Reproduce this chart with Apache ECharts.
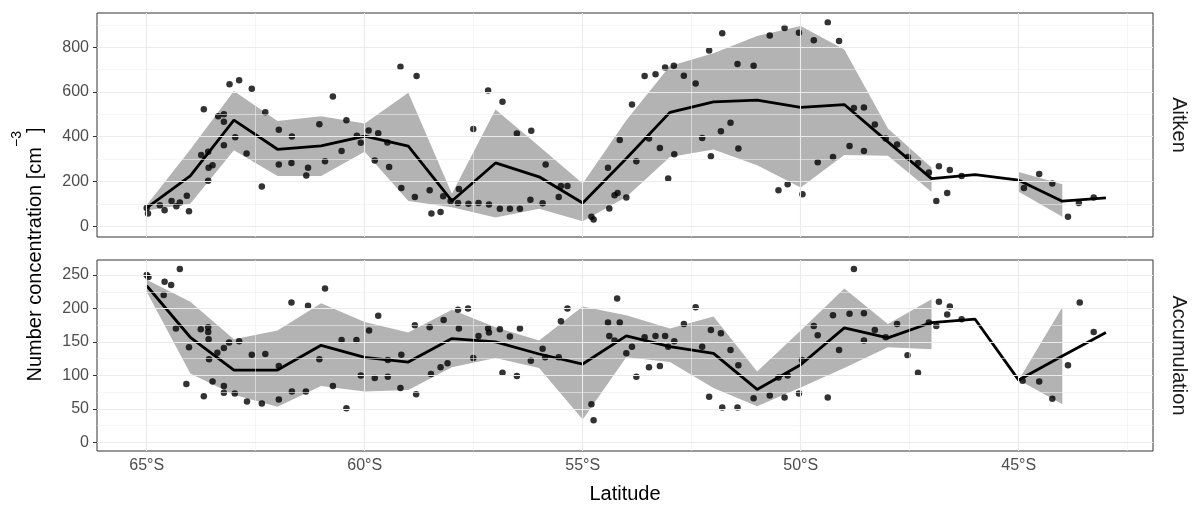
<!DOCTYPE html>
<html><head><meta charset="utf-8">
<script src="https://cdn.jsdelivr.net/npm/echarts@6.0.0/dist/echarts.min.js"></script>
<style>html,body{margin:0;padding:0;background:#fff}#c{width:1198px;height:508px}</style>
</head><body><div id="c"></div>
<script>
// ---------- data ----------
const LATS = [-65,-64,-63,-62,-61,-60,-59,-58,-57,-56,-55,-54,-53,-52,-51,-50,-49,-48,-47,-46,-45,-44,-43];
const AITKEN_MEAN  = [82,225,474,344,359,403,358,113,283,221,104,303,509,556,564,531,544,377,213,231,206,112,127];
const AITKEN_UPPER = [95,343,604,470,492,459,597,145,522,358,191,474,716,773,850,895,790,437,263,null,243,188,null];
const AITKEN_LOWER = [70,101,340,225,225,333,113,85,39,78,22,131,310,343,273,173,318,315,154,null,154,42,null];
const ACC_MEAN  = [234,157,108,108,145,127,120,155,150,132,117,159,143,133,79,116,171,156,179,184,93,129,164];
const ACC_UPPER = [243,210,154,167,208,180,164,198,172,152,203,190,170,188,106,167,230,177,214,null,93,202,null];
const ACC_LOWER = [225,103,71,53,84,76,78,112,126,111,34,127,120,81,54,82,111,142,139,null,93,57,null];

const AITKEN_PTS_LAT = [-65.0,-64.97,-64.70,-64.59,-64.43,-64.32,-64.24,-64.08,-64.03,-63.69,-63.75,-63.59,-63.58,-63.49,-63.59,-63.36,-63.23,-63.23,-63.23,-63.10,-62.97,-62.88,-62.71,-62.59,-62.36,-62.28,-61.97,-61.97,-61.68,-61.67,-61.34,-61.30,-61.04,-60.91,-60.73,-60.53,-60.42,-60.18,-60.09,-59.91,-59.77,-59.69,-59.48,-59.44,
 -59.18,-58.81,-59.16,-58.85,-58.51,-58.47,-58.26,-58.20,-58.03,-57.84,-57.86,-57.62,-57.51,-57.39,-57.17,-57.15,-56.90,-56.84,-56.67,-56.51,-56.44,-56.20,-56.18,-55.92,-55.85,-55.55,-55.50,-55.35,-54.80,-54.75,-54.39,-54.42,-54.27,-54.20,-54.15,-54.00,-53.87,-53.77,-53.58,-53.48,-53.33,-53.23,-53.11,-53.04,-52.91,-52.90,
 -52.68,-52.41,-52.26,-52.10,-52.06,-51.83,-51.80,-51.61,-51.45,-51.43,-51.08,-50.71,-50.51,-50.37,-50.30,-50.04,-49.96,-49.70,-49.61,-49.38,-49.26,-49.12,-48.88,-48.78,-48.55,-48.55,-48.30,-48.05,-47.79,-47.54,-47.31,-47.06,-46.89,-46.83,-46.64,-46.58,-46.31,-44.88,-44.53,-44.23,-43.87,-43.62,-43.28];
const AITKEN_PTS_VAL = [82,57,94,72,113,89,106,136,67,523,318,333,261,273,203,492,500,467,362,635,398,653,325,614,178,509,431,276,283,401,227,262,456,291,580,336,474,404,373,428,294,416,374,265,
 713,671,171,131,161,57,64,134,113,166,104,101,435,104,607,97,78,556,78,415,78,118,427,103,276,131,180,180,42,30,79,262,139,149,385,128,544,291,671,392,679,350,710,213,717,322,
 673,638,394,785,313,425,862,462,725,348,717,853,161,886,188,865,143,831,286,910,310,828,359,529,531,336,455,392,365,310,283,240,113,268,149,251,225,171,233,191,42,104,128];

const ACC_PTS_LAT = [-65.0,-64.96,-64.61,-64.59,-64.44,-64.24,-64.33,-64.03,-64.09,-63.76,-63.59,-63.59,-63.58,-63.57,-63.69,-63.49,-63.38,-63.23,-63.23,-63.23,-63.11,-62.98,-62.88,-62.70,-62.59,-62.36,-62.28,-61.97,-61.97,-61.68,-61.67,-61.35,-61.30,-61.04,-60.91,-60.73,-60.53,-60.42,-60.19,-60.09,-59.90,-59.77,-59.69,-59.47,-59.47,
 -59.16,-59.18,-58.85,-58.82,-58.51,-58.48,-58.26,-58.19,-58.10,-57.86,-57.84,-57.63,-57.51,-57.39,-57.17,-57.15,-56.90,-56.84,-56.67,-56.51,-56.44,-56.19,-55.92,-55.86,-55.55,-55.50,-55.35,-54.80,-54.75,-54.42,-54.39,-54.27,-54.21,-54.15,-54.00,-53.87,-53.77,-53.58,-53.48,-53.33,-53.23,-53.11,-53.04,-52.90,
 -52.68,-52.41,-52.26,-52.10,-52.06,-51.83,-51.80,-51.61,-51.45,-51.43,-51.08,-50.71,-50.51,-50.37,-50.30,-50.04,-49.97,-49.70,-49.61,-49.38,-49.26,-49.12,-48.88,-48.78,-48.55,-48.55,-48.30,-48.05,-47.79,-47.55,-47.31,-47.06,-46.89,-46.83,-46.64,-46.58,-46.31,-44.91,-44.53,-44.23,-43.87,-43.60,-43.28];
const ACC_PTS_VAL = [250,247,220,240,235,259,170,142,87,169,172,165,154,124,69,91,134,141,84,74,149,73,151,61,131,58,132,114,64,209,76,76,204,124,230,84,153,51,153,100,167,96,189,98,123,
 131,81,175,72,172,102,112,183,118,198,170,200,126,159,170,164,169,104,158,99,170,122,140,127,127,181,200,57,33,179,159,152,215,179,133,143,98,157,112,159,114,159,143,151,
 177,202,143,68,168,163,52,138,52,115,66,70,97,67,100,73,123,174,160,67,190,138,192,259,193,152,168,157,177,130,104,179,174,210,191,203,184,92,91,65,115,209,165];

const X_TICKS = [-65,-60,-55,-50,-45];
const X_MINOR = [-62.5,-57.5,-52.5,-47.5,-42.5];
const AITKEN_TICKS = [0,200,400,600,800];
const AITKEN_MINOR = [100,300,500,700,900];
const ACC_TICKS = [0,50,100,150,200,250];
const ACC_MINOR = [25,75,125,175,225];

// ---------- helpers ----------
const FONT = 'Liberation Sans, Arial, Helvetica, sans-serif';
const zip = (a, b) => a.map((v, i) => [v, b[i]]);
function runsOf(up, lo) {
  const runs = []; let s = -1;
  for (let i = 0; i <= LATS.length; i++) {
    const ok = i < LATS.length && up[i] != null && lo[i] != null;
    if (ok && s < 0) s = i;
    if (!ok && s >= 0) { if (i - 1 > s) runs.push([s, i - 1]); s = -1; }
  }
  return runs;
}
function ribbonSeries(up, lo, gi) {
  const runs = runsOf(up, lo);
  return {
    type: 'custom', xAxisIndex: gi, yAxisIndex: gi, z: 2, silent: true,
    data: runs.map(r => [LATS[r[0]], lo[r[0]]]),
    renderItem: (params, api) => {
      const r = runs[params.dataIndex];
      const pts = [];
      for (let i = r[0]; i <= r[1]; i++) pts.push(api.coord([LATS[i], up[i]]));
      for (let i = r[1]; i >= r[0]; i--) pts.push(api.coord([LATS[i], lo[i]]));
      return { type: 'polygon', shape: { points: pts }, style: { fill: '#b3b3b3', stroke: null } };
    }
  };
}
function gridSeries(gi, yMajor, yMinor) {
  const major = { color: '#ebebeb', width: 1.1, type: 'solid' };
  const minor = { color: '#f0f0f0', width: 0.6, type: 'solid' };
  const d = [];
  X_MINOR.forEach(v => d.push({ xAxis: v, lineStyle: minor }));
  yMinor.forEach(v => d.push({ yAxis: v, lineStyle: minor }));
  X_TICKS.forEach(v => d.push({ xAxis: v, lineStyle: major }));
  yMajor.forEach(v => d.push({ yAxis: v, lineStyle: major }));
  return {
    type: 'line', xAxisIndex: gi, yAxisIndex: gi, data: [], z: 1, silent: true,
    markLine: { silent: true, symbol: ['none', 'none'], label: { show: false }, animation: false, data: d }
  };
}
function xAxis(gi, labels) {
  return {
    type: 'value', gridIndex: gi, min: -66.14, max: -41.92,
    axisLine: { show: false }, splitLine: { show: false },
    axisTick: { show: true, length: 4, customValues: X_TICKS, lineStyle: { color: '#333', width: 1 } },
    axisLabel: { show: labels, customValues: X_TICKS, formatter: v => Math.abs(v) + '°S',
      color: '#4d4d4d', fontSize: 16, fontFamily: FONT, margin: 7 }
  };
}
function yAxis(gi, min, max, ticks) {
  return {
    type: 'value', gridIndex: gi, min: min, max: max,
    axisLine: { show: false }, splitLine: { show: false },
    axisTick: { show: true, length: 4, customValues: ticks, lineStyle: { color: '#333', width: 1 } },
    axisLabel: { customValues: ticks, color: '#4d4d4d', fontSize: 16, fontFamily: FONT, margin: 8 }
  };
}
function lineSeries(mean, gi) {
  return { type: 'line', xAxisIndex: gi, yAxisIndex: gi, z: 3, data: zip(LATS, mean), showSymbol: false,
    lineStyle: { color: '#000', width: 2.8 }, silent: true };
}
function pointSeries(lat, val, gi) {
  return { type: 'scatter', xAxisIndex: gi, yAxisIndex: gi, z: 4, data: zip(lat, val),
    symbol: 'circle', symbolSize: 6.5, itemStyle: { color: '#000' }, silent: true };
}

const chart = echarts.init(document.getElementById('c'), null, { renderer: 'canvas' });
chart.setOption({
  animation: false,
  backgroundColor: '#fff',
  grid: [
    { left: 97, top: 13, width: 1056, height: 224, show: true, backgroundColor: '#fff', borderColor: '#333', borderWidth: 1 },
    { left: 97, top: 260, width: 1056, height: 191, show: true, backgroundColor: '#fff', borderColor: '#333', borderWidth: 1 }
  ],
  xAxis: [xAxis(0, false), xAxis(1, true)],
  yAxis: [yAxis(0, -48, 953, AITKEN_TICKS), yAxis(1, -13, 272.5, ACC_TICKS)],
  series: [
    gridSeries(0, AITKEN_TICKS, AITKEN_MINOR),
    gridSeries(1, ACC_TICKS, ACC_MINOR),
    ribbonSeries(AITKEN_UPPER, AITKEN_LOWER, 0),
    ribbonSeries(ACC_UPPER, ACC_LOWER, 1),
    lineSeries(AITKEN_MEAN, 0),
    lineSeries(ACC_MEAN, 1),
    pointSeries(AITKEN_PTS_LAT, AITKEN_PTS_VAL, 0),
    pointSeries(ACC_PTS_LAT, ACC_PTS_VAL, 1)
  ],
  graphic: [
    { type: 'text', x: 625, y: 494, style: { text: 'Latitude', font: '20px ' + FONT, fill: '#000', textAlign: 'center', textVerticalAlign: 'middle' } },
    { type: 'text', x: 1179, y: 125, rotation: -Math.PI / 2, style: { text: 'Aitken', font: '20px ' + FONT, fill: '#1a1a1a', textAlign: 'center', textVerticalAlign: 'middle' } },
    { type: 'text', x: 1179, y: 355.5, rotation: -Math.PI / 2, style: { text: 'Accumulation', font: '20px ' + FONT, fill: '#1a1a1a', textAlign: 'center', textVerticalAlign: 'middle' } },
    { type: 'text', x: 35, y: 147, rotation: Math.PI / 2, style: { text: 'Number concentration [cm', font: '20px ' + FONT, fill: '#000', textAlign: 'right', textVerticalAlign: 'middle' } },
    { type: 'text', x: 17, y: 147, rotation: Math.PI / 2, style: { text: '\u22123', font: '14px ' + FONT, fill: '#000', textAlign: 'left', textVerticalAlign: 'middle' } },
    { type: 'text', x: 35, y: 133, rotation: Math.PI / 2, style: { text: ']', font: '20px ' + FONT, fill: '#000', textAlign: 'left', textVerticalAlign: 'middle' } }
  ]
});
</script></body></html>
